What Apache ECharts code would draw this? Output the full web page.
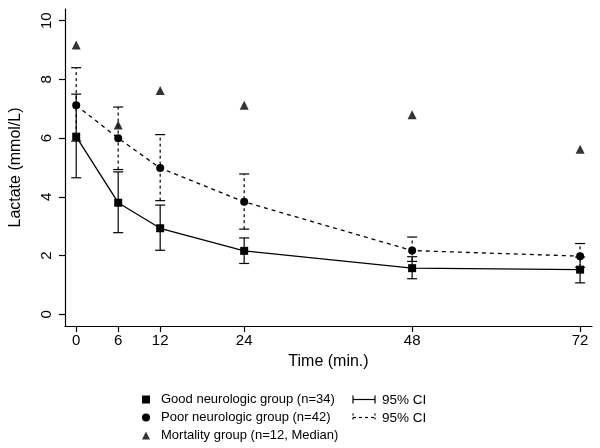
<!DOCTYPE html>
<html>
<head>
<meta charset="utf-8">
<script src="https://cdn.jsdelivr.net/npm/echarts@6/dist/echarts.min.js"></script>
<style>
html,body{margin:0;padding:0;background:#fff;}
#chart{width:600px;height:448px;}
</style>
</head>
<body>
<div id="chart"></div>
<script>
const times = [0, 6, 12, 24, 48, 72];
const xTicks = [0, 6, 12, 24, 48, 72];
const yTicks = [0, 2, 4, 6, 8, 10];
const goodMean = [6.05, 3.8, 2.93, 2.16, 1.57, 1.52];
const goodLow  = [4.65, 2.78, 2.18, 1.73, 1.21, 1.07];
const goodHigh = [7.5, 4.85, 3.72, 2.6, 1.96, 1.95];
const poorMean = [7.12, 6.0, 4.98, 3.83, 2.17, 1.98];
const poorLow  = [5.9, 4.93, 3.87, 2.9, 1.8, 1.6];
const poorHigh = [8.4, 7.06, 6.12, 4.78, 2.63, 2.41];
const mortMedian = [9.17, 6.45, 7.62, 7.12, 6.8, 5.62];
const names = ['Good neurologic group (n=34)', 'Poor neurologic group (n=42)', 'Mortality group (n=12, Median)'];
const ciLabel = '95% CI';

const font = 'Liberation Sans, Arial, sans-serif';
const pair = (xs, ys) => xs.map((x, i) => [x, ys[i]]);
const triple = (xs, lo, hi) => xs.map((x, i) => [x, lo[i], hi[i]]);

function errBar(dashed) {
  return function (params, api) {
    const x = api.value(0);
    const pLo = api.coord([x, api.value(1)]);
    const pHi = api.coord([x, api.value(2)]);
    const hw = 5;
    const style = { stroke: '#000', lineWidth: 1.2, lineDash: dashed ? [3, 3] : null };
    return {
      type: 'group',
      children: [
        { type: 'line', shape: { x1: pLo[0], y1: pLo[1], x2: pHi[0], y2: pHi[1] }, style: style },
        { type: 'line', shape: { x1: pHi[0] - hw, y1: pHi[1], x2: pHi[0] + hw, y2: pHi[1] }, style: { stroke: '#000', lineWidth: 1.2 } },
        { type: 'line', shape: { x1: pLo[0] - hw, y1: pLo[1], x2: pLo[0] + hw, y2: pLo[1] }, style: { stroke: '#000', lineWidth: 1.2 } }
      ]
    };
  };
}

const chart = echarts.init(document.getElementById('chart'), null, { renderer: 'canvas' });
chart.setOption({
  animation: false,
  backgroundColor: '#fff',
  textStyle: { fontFamily: font, color: '#000' },
  grid: { left: 64, right: 8, top: 9, bottom: 122, containLabel: false },
  xAxis: {
    type: 'value', min: -1.6, max: 73.7,
    name: 'Time (min.)', nameLocation: 'middle', nameGap: 28,
    nameTextStyle: { fontSize: 16, color: '#000', fontFamily: font },
    axisLine: { show: true, onZero: false, lineStyle: { color: '#000', width: 1.2 } },
    axisTick: { show: true, customValues: xTicks, length: 6, lineStyle: { color: '#000', width: 1.2 } },
    axisLabel: { customValues: xTicks, fontSize: 15, color: '#000', margin: 7, fontFamily: font },
    splitLine: { show: false }
  },
  yAxis: {
    type: 'value', min: -0.4, max: 10.4,
    name: 'Lactate (mmol/L)', nameLocation: 'middle', nameGap: 41, nameRotate: 90,
    nameTextStyle: { fontSize: 16, color: '#000', fontFamily: font },
    axisLine: { show: true, onZero: false, lineStyle: { color: '#000', width: 1.2 } },
    axisTick: { show: true, customValues: yTicks, length: 6, lineStyle: { color: '#000', width: 1.2 } },
    axisLabel: { customValues: yTicks, fontSize: 15, color: '#000', rotate: 90, margin: 11, fontFamily: font },
    splitLine: { show: false }
  },
  legend: {
    orient: 'vertical', left: 142, top: 393, padding: 0, itemGap: 5, height: 60,
    itemWidth: 8, itemHeight: 8,
    data: [
      { name: names[0], icon: 'rect', itemStyle: { color: '#000' } },
      { name: names[1], icon: 'circle', itemStyle: { color: '#000' } },
      { name: names[2], icon: 'triangle', itemStyle: { color: '#000' } }
    ],
    textStyle: { fontSize: 13, color: '#000', fontFamily: font, lineHeight: 13, padding: [0, 0, 0, 6] },
    selectedMode: false
  },
  graphic: [
    { type: 'line', shape: { x1: 353, y1: 399.5, x2: 375, y2: 399.5 }, style: { stroke: '#000', lineWidth: 1.2 } },
    { type: 'line', shape: { x1: 353, y1: 395.5, x2: 353, y2: 403.5 }, style: { stroke: '#000', lineWidth: 1.2 } },
    { type: 'line', shape: { x1: 375, y1: 395.5, x2: 375, y2: 403.5 }, style: { stroke: '#000', lineWidth: 1.2 } },
    { type: 'text', left: 382, top: 393, style: { text: ciLabel, fill: '#000', font: '13.5px ' + font } },
    { type: 'line', shape: { x1: 353, y1: 417.5, x2: 375, y2: 417.5 }, style: { stroke: '#000', lineWidth: 1.2, lineDash: [3, 3] } },
    { type: 'line', shape: { x1: 353, y1: 413.5, x2: 353, y2: 421.5 }, style: { stroke: '#000', lineWidth: 1.2, lineDash: [2, 2] } },
    { type: 'line', shape: { x1: 375, y1: 413.5, x2: 375, y2: 421.5 }, style: { stroke: '#000', lineWidth: 1.2, lineDash: [2, 2] } },
    { type: 'text', left: 382, top: 411, style: { text: ciLabel, fill: '#000', font: '13.5px ' + font } }
  ],
  series: [
    {
      type: 'custom', name: 'goodCI', renderItem: errBar(false),
      data: triple(times, goodLow, goodHigh), encode: { x: 0, y: [1, 2] }, z: 2
    },
    {
      type: 'custom', name: 'poorCI', renderItem: errBar(true),
      data: triple(times, poorLow, poorHigh), encode: { x: 0, y: [1, 2] }, z: 2
    },
    {
      type: 'line', name: names[0], data: pair(times, goodMean),
      symbol: 'rect', symbolSize: 8, showAllSymbol: true,
      itemStyle: { color: '#000' }, lineStyle: { color: '#000', width: 1.3, type: 'solid' }, z: 3
    },
    {
      type: 'line', name: names[1], data: pair(times, poorMean),
      symbol: 'circle', symbolSize: 8, showAllSymbol: true,
      itemStyle: { color: '#000' }, lineStyle: { color: '#000', width: 1.3, type: [4, 4] }, z: 3
    },
    {
      type: 'scatter', name: names[2], data: pair(times, mortMedian),
      symbol: 'triangle', symbolSize: 9,
      itemStyle: { color: '#000' }, z: 3
    }
  ]
});
</script>
</body>
</html>
